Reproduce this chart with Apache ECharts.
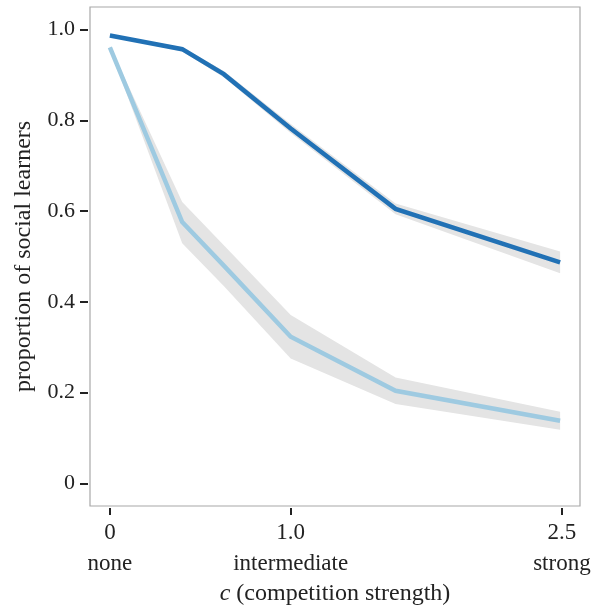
<!DOCTYPE html>
<html>
<head>
<meta charset="utf-8">
<script src="https://cdn.jsdelivr.net/npm/echarts@6/dist/echarts.min.js"></script>
<style>
  html, body { margin: 0; padding: 0; background: #fff; }
  #chart { width: 598px; height: 605px; }
</style>
</head>
<body>
<div id="chart"></div>
<script>
// competition strength c (log spaced)
var cValues = [0, 0.4, 0.63, 1.0, 1.58, 2.49];

// dark blue line + its band
var darkMean  = [0.987, 0.957, 0.902, 0.782, 0.605, 0.487];
var darkLower = [0.985, 0.952, 0.895, 0.772, 0.593, 0.463];
var darkUpper = [0.989, 0.962, 0.909, 0.792, 0.617, 0.511];

// light blue line + its band
var lightMean  = [0.961, 0.576, 0.480, 0.323, 0.204, 0.138];
var lightLower = [0.958, 0.529, 0.435, 0.275, 0.175, 0.118];
var lightUpper = [0.964, 0.620, 0.525, 0.371, 0.233, 0.158];

var xTicks = [0, 1.0, 2.5];
var xTickLabels = ['0', '1.0', '2.5'];
var xTickWords = ['none', 'intermediate', 'strong'];
var yTicks = [0, 0.2, 0.4, 0.6, 0.8, 1.0];
var yTickLabels = ['0', '0.2', '0.4', '0.6', '0.8', '1.0'];

var serif = '"Liberation Serif", "DejaVu Serif", serif';

function pairs(ys) {
  return cValues.map(function (x, i) { return [x, ys[i]]; });
}

// ribbon between lower and upper bound, drawn once as a polygon
function band(lo, hi) {
  return {
    type: 'custom', silent: true, z: 1,
    data: pairs(lo),
    encode: { x: 0, y: 1 },
    renderItem: function (params, api) {
      if (params.dataIndex !== 0) return;
      var pts = [];
      var i;
      for (i = 0; i < cValues.length; i++) pts.push(api.coord([cValues[i], hi[i]]));
      for (i = cValues.length - 1; i >= 0; i--) pts.push(api.coord([cValues[i], lo[i]]));
      return { type: 'polygon', shape: { points: pts }, style: { fill: '#e4e4e4' } };
    }
  };
}

function meanLine(ys, color) {
  return {
    type: 'line', data: pairs(ys), showSymbol: false, silent: true, z: 3,
    lineStyle: { color: color, width: 4.5, cap: 'butt', join: 'miter' }
  };
}

var chart = echarts.init(document.getElementById('chart'));
chart.setOption({
  animation: false,
  grid: {
    left: 90, right: 18, top: 7, bottom: 99,
    outerBoundsMode: 'none', containLabel: false,
    show: true, borderColor: '#a8a8a8', borderWidth: 1.2, backgroundColor: '#fff'
  },
  xAxis: {
    type: 'value', min: -0.11, max: 2.6, offset: 2,
    axisLine: { show: false, onZero: false },
    splitLine: { show: false },
    axisTick: { show: true, customValues: xTicks, length: 7, lineStyle: { color: '#222', width: 2 } },
    axisLabel: {
      customValues: xTicks, margin: 9,
      formatter: function (v) {
        var i = xTicks.indexOf(v);
        return '{n|' + xTickLabels[i] + '}\n{w|' + xTickWords[i] + '}';
      },
      rich: {
        n: { fontFamily: serif, fontSize: 23, lineHeight: 31, color: '#222' },
        w: { fontFamily: serif, fontSize: 23, lineHeight: 31, color: '#222' }
      }
    },
    name: '{i|c} (competition strength)',
    nameLocation: 'middle', nameGap: 74,
    nameTextStyle: {
      fontFamily: serif, fontSize: 24, color: '#222',
      rich: { i: { fontFamily: serif, fontSize: 24, fontStyle: 'italic', color: '#222' } }
    }
  },
  yAxis: {
    type: 'value', min: -0.05, max: 1.05, offset: 2,
    axisLine: { show: false, onZero: false },
    splitLine: { show: false },
    axisTick: { show: true, customValues: yTicks, length: 8, lineStyle: { color: '#222', width: 2 } },
    axisLabel: {
      customValues: yTicks, margin: 13,
      fontFamily: serif, fontSize: 22, color: '#222',
      formatter: function (v) {
        var i = yTicks.indexOf(v);
        return i >= 0 ? yTickLabels[i] : '';
      }
    },
    name: 'proportion of social learners',
    nameLocation: 'middle', nameGap: 52,
    nameTextStyle: { fontFamily: serif, fontSize: 24, color: '#222' }
  },
  series: [
    band(darkLower, darkUpper),
    band(lightLower, lightUpper),
    meanLine(lightMean, '#9ecae1'),
    meanLine(darkMean, '#2171b5')
  ]
});
</script>
</body>
</html>
